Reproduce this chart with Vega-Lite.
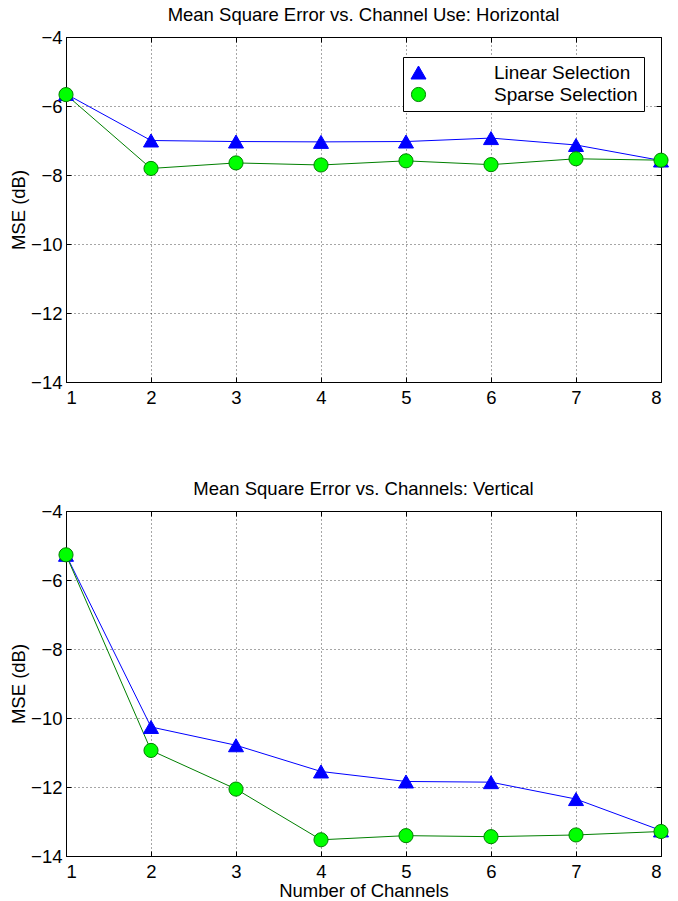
{
  "$schema": "https://vega.github.io/schema/vega-lite/v6.json",
  "padding": {"left": 9, "top": 5, "right": 17, "bottom": 0},
  "datasets": {
    "top": [
      {"channels": 1, "method": "Linear Selection", "mse": -5.65},
      {"channels": 2, "method": "Linear Selection", "mse": -7.0},
      {"channels": 3, "method": "Linear Selection", "mse": -7.03},
      {"channels": 4, "method": "Linear Selection", "mse": -7.04},
      {"channels": 5, "method": "Linear Selection", "mse": -7.03},
      {"channels": 6, "method": "Linear Selection", "mse": -6.93},
      {"channels": 7, "method": "Linear Selection", "mse": -7.13},
      {"channels": 8, "method": "Linear Selection", "mse": -7.58},
      {"channels": 1, "method": "Sparse Selection", "mse": -5.67},
      {"channels": 2, "method": "Sparse Selection", "mse": -7.81},
      {"channels": 3, "method": "Sparse Selection", "mse": -7.65},
      {"channels": 4, "method": "Sparse Selection", "mse": -7.71},
      {"channels": 5, "method": "Sparse Selection", "mse": -7.59},
      {"channels": 6, "method": "Sparse Selection", "mse": -7.7},
      {"channels": 7, "method": "Sparse Selection", "mse": -7.53},
      {"channels": 8, "method": "Sparse Selection", "mse": -7.57}
    ],
    "bottom": [
      {"channels": 1, "method": "Linear Selection", "mse": -5.27},
      {"channels": 2, "method": "Linear Selection", "mse": -10.26},
      {"channels": 3, "method": "Linear Selection", "mse": -10.79},
      {"channels": 4, "method": "Linear Selection", "mse": -11.55},
      {"channels": 5, "method": "Linear Selection", "mse": -11.84},
      {"channels": 6, "method": "Linear Selection", "mse": -11.86},
      {"channels": 7, "method": "Linear Selection", "mse": -12.35},
      {"channels": 8, "method": "Linear Selection", "mse": -13.26},
      {"channels": 1, "method": "Sparse Selection", "mse": -5.27},
      {"channels": 2, "method": "Sparse Selection", "mse": -10.94},
      {"channels": 3, "method": "Sparse Selection", "mse": -12.06},
      {"channels": 4, "method": "Sparse Selection", "mse": -13.53},
      {"channels": 5, "method": "Sparse Selection", "mse": -13.41},
      {"channels": 6, "method": "Sparse Selection", "mse": -13.44},
      {"channels": 7, "method": "Sparse Selection", "mse": -13.39},
      {"channels": 8, "method": "Sparse Selection", "mse": -13.29}
    ]
  },
  "config": {
    "font": "Liberation Sans",
    "view": {"stroke": "#000000", "strokeWidth": 1},
    "axis": {
      "labelFont": "Liberation Sans",
      "labelFontSize": 18.5,
      "labelColor": "#000000",
      "titleFont": "Liberation Sans",
      "titleFontSize": 18.5,
      "titleFontWeight": "normal",
      "titleColor": "#000000",
      "tickColor": "#000000",
      "tickSize": -5,
      "domain": false,
      "gridColor": "#000000",
      "gridDash": [1, 3],
      "gridOpacity": 0.7,
      "gridWidth": 1
    },
    "title": {"font": "Liberation Sans", "fontSize": 18.5, "fontWeight": "normal", "color": "#000000", "offset": 4}
  },
  "spacing": 72,
  "vconcat": [
    {
      "width": 595,
      "height": 345,
      "title": "Mean Square Error vs. Channel Use: Horizontal",
      "data": {"name": "top"},
      "layer": [
        {
          "mark": {"type": "line", "strokeWidth": 1},
          "encoding": {
            "x": {"field": "channels", "type": "quantitative", "scale": {"domain": [1, 8], "nice": false, "zero": false}, "axis": {"values": [1, 2, 3, 4, 5, 6, 7, 8], "title": null, "grid": true, "labelPadding": 11}},
            "y": {"field": "mse", "type": "quantitative", "scale": {"domain": [-14, -4], "nice": false, "zero": false}, "axis": {"values": [-14, -12, -10, -8, -6, -4], "title": "MSE (dB)", "grid": true, "labelPadding": 9, "titlePadding": 2}},
            "stroke": {"field": "method", "type": "nominal", "scale": {"domain": ["Linear Selection", "Sparse Selection"], "range": ["#0000ff", "#007f00"]}}
          }
        },
        {
          "mark": {"type": "point", "filled": true, "opacity": 1, "strokeWidth": 1},
          "encoding": {
            "x": {"field": "channels", "type": "quantitative", "axis": null},
            "y": {"field": "mse", "type": "quantitative", "axis": null},
            "stroke": {"field": "method", "type": "nominal"},
            "shape": {"field": "method", "type": "nominal", "scale": {"domain": ["Linear Selection", "Sparse Selection"], "range": ["triangle-up", "circle"]}},
            "size": {"field": "method", "type": "nominal", "scale": {"domain": ["Linear Selection", "Sparse Selection"], "range": [225, 200]}},
            "fill": {
              "field": "method", "type": "nominal",
              "scale": {"domain": ["Linear Selection", "Sparse Selection"], "range": ["#0000ff", "#00ff00"]},
              "legend": {
                "title": null, "orient": "none", "legendX": 337, "legendY": 20,
                "strokeColor": "#000000", "fillColor": "#ffffff", "padding": 6,
                "labelFont": "Liberation Sans", "labelFontSize": 19, "labelColor": "#000000",
                "labelOffset": 66, "rowPadding": 2, "symbolSize": 196, "symbolStrokeWidth": 1
              }
            }
          }
        },
        {
          "mark": {"type": "point", "opacity": 0},
          "encoding": {
            "x": {"field": "channels", "type": "quantitative", "axis": {"orient": "top", "values": [1, 2, 3, 4, 5, 6, 7, 8], "labels": false, "grid": false, "title": null}},
            "y": {"field": "mse", "type": "quantitative", "axis": {"orient": "right", "values": [-14, -12, -10, -8, -6, -4], "labels": false, "grid": false, "title": null}}
          }
        }
      ],
      "resolve": {"axis": {"x": "independent", "y": "independent"}}
    },
    {
      "width": 595,
      "height": 345,
      "title": "Mean Square Error vs. Channels: Vertical",
      "data": {"name": "bottom"},
      "layer": [
        {
          "mark": {"type": "line", "strokeWidth": 1},
          "encoding": {
            "x": {"field": "channels", "type": "quantitative", "scale": {"domain": [1, 8], "nice": false, "zero": false}, "axis": {"values": [1, 2, 3, 4, 5, 6, 7, 8], "title": "Number of Channels", "grid": true, "labelPadding": 11, "titlePadding": 1}},
            "y": {"field": "mse", "type": "quantitative", "scale": {"domain": [-14, -4], "nice": false, "zero": false}, "axis": {"values": [-14, -12, -10, -8, -6, -4], "title": "MSE (dB)", "grid": true, "labelPadding": 9, "titlePadding": 2}},
            "stroke": {"field": "method", "type": "nominal", "scale": {"domain": ["Linear Selection", "Sparse Selection"], "range": ["#0000ff", "#007f00"]}}
          }
        },
        {
          "mark": {"type": "point", "filled": true, "opacity": 1, "strokeWidth": 1},
          "encoding": {
            "x": {"field": "channels", "type": "quantitative", "axis": null},
            "y": {"field": "mse", "type": "quantitative", "axis": null},
            "stroke": {"field": "method", "type": "nominal"},
            "shape": {"field": "method", "type": "nominal", "scale": {"domain": ["Linear Selection", "Sparse Selection"], "range": ["triangle-up", "circle"]}},
            "size": {"field": "method", "type": "nominal", "scale": {"domain": ["Linear Selection", "Sparse Selection"], "range": [225, 200]}},
            "fill": {
              "field": "method", "type": "nominal",
              "scale": {"domain": ["Linear Selection", "Sparse Selection"], "range": ["#0000ff", "#00ff00"]},
              "legend": {
                "title": null, "orient": "none", "legendX": 337, "legendY": 20,
                "strokeColor": "#000000", "fillColor": "#ffffff", "padding": 6,
                "labelFont": "Liberation Sans", "labelFontSize": 19, "labelColor": "#000000",
                "labelOffset": 66, "rowPadding": 2, "symbolSize": 196, "symbolStrokeWidth": 1
              }
            }
          }
        },
        {
          "mark": {"type": "point", "opacity": 0},
          "encoding": {
            "x": {"field": "channels", "type": "quantitative", "axis": {"orient": "top", "values": [1, 2, 3, 4, 5, 6, 7, 8], "labels": false, "grid": false, "title": null}},
            "y": {"field": "mse", "type": "quantitative", "axis": {"orient": "right", "values": [-14, -12, -10, -8, -6, -4], "labels": false, "grid": false, "title": null}}
          }
        }
      ],
      "resolve": {"axis": {"x": "independent", "y": "independent"}}
    }
  ]
}
